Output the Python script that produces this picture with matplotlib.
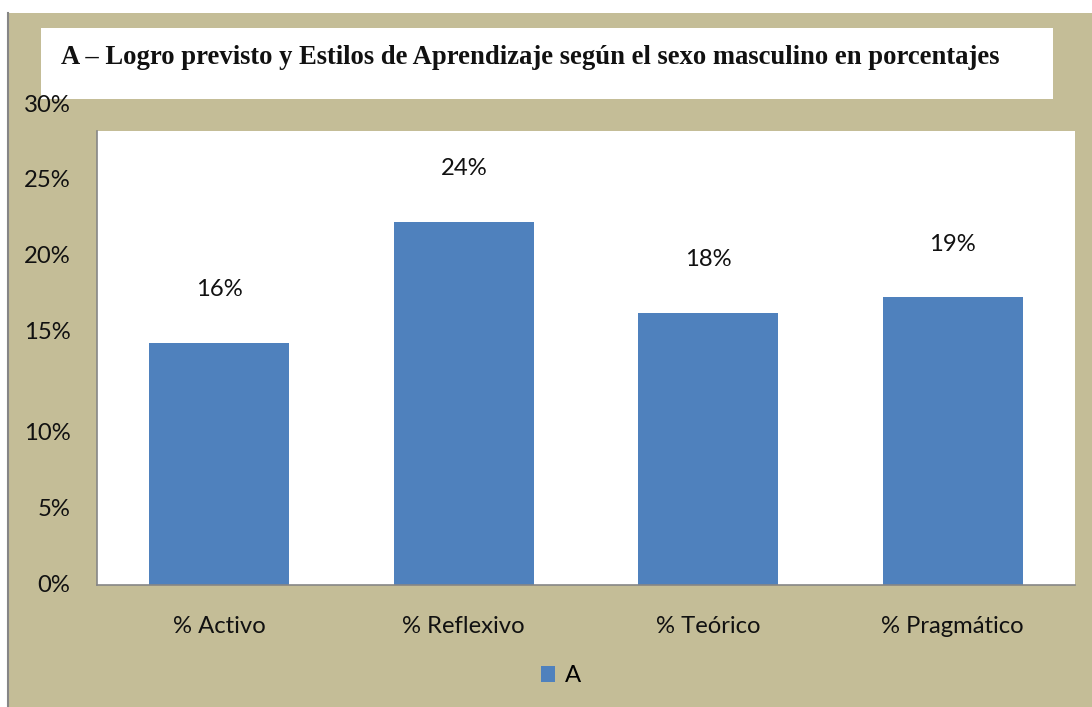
import matplotlib
matplotlib.use("Agg")
import matplotlib.pyplot as plt
from matplotlib.patches import Rectangle

categories = ["% Activo", "% Reflexivo", "% Teórico", "% Pragmático"]
values = [16, 24, 18, 19]
value_labels = ["16%", "24%", "18%", "19%"]
# y tick labels sit at uneven heights in the original picture
ytick_labels = ["0%", "5%", "10%", "15%", "20%", "25%", "30%"]
ytick_pos = [0, 5, 10, 16.7, 21.7, 26.7, 31.7]
series_name = "A"
title = "A – Logro previsto y Estilos de Aprendizaje según el sexo masculino en porcentajes"

W, H = 1092, 707
BEIGE = "#C4BD97"
BLUE = "#4F81BD"
GRAY = "#868686"
FONT = ["Lato", "DejaVu Sans"]
FS = 17.2


def fx(px):
    return px / W


def fy(py):
    return 1 - py / H


fig = plt.figure(figsize=(W / 100, H / 100), dpi=100)
fig.patch.set_facecolor("white")

# beige chart frame + gray left edge
fig.patches.append(Rectangle((fx(8), 0), 1 - fx(8), fy(13), transform=fig.transFigure,
                             facecolor=BEIGE, edgecolor="none", zorder=0))
fig.add_artist(plt.Line2D([fx(8), fx(8)], [0, fy(13)], transform=fig.transFigure,
                          color=GRAY, lw=1.5))
# white title box
fig.patches.append(Rectangle((fx(41), fy(99)), fx(1053 - 41), (99 - 28) / H,
                             transform=fig.transFigure, facecolor="white",
                             edgecolor="none", zorder=1))
fig.text(fx(61), fy(58), title, ha="left", va="center", fontsize=19.2,
         fontweight="bold", family="Liberation Serif", color="#111111")

ax = fig.add_axes([fx(97), fy(585), fx(1075 - 97), (585 - 131) / H])
ax.set_zorder(5)
ax.set_facecolor("white")
x = range(len(categories))
bars = ax.bar(x, values, width=0.573, color=BLUE, label=series_name, zorder=2)
ax.set_xlim(-0.5, len(categories) - 0.5)
ax.set_ylim(0, 30)

for xi, v, lab in zip(x, values, value_labels):
    ax.text(xi, v + 3.5, lab, ha="center", va="center", fontsize=FS,
            family=FONT, color="#111111")

ax.set_xticks(list(x))
ax.set_xticklabels(categories, fontsize=FS, family=FONT, color="#111111")
ax.tick_params(axis="x", length=0, pad=22)
ax.set_yticks([])
for p, lab in zip(ytick_pos, ytick_labels):
    ax.text(-0.027, p, lab, transform=ax.get_yaxis_transform(), ha="right",
            va="center", fontsize=FS, family=FONT, color="#111111", clip_on=False)

for s in ["top", "right"]:
    ax.spines[s].set_visible(False)
for s in ["left", "bottom"]:
    ax.spines[s].set_color(GRAY)
    ax.spines[s].set_linewidth(1.2)

leg = fig.legend(handles=[bars], labels=[series_name], loc="center",
                 bbox_to_anchor=(fx(561), fy(676)), frameon=False,
                 prop={"family": FONT, "size": FS}, handlelength=0.6,
                 handleheight=0.6, handletextpad=0.4)
leg.set_zorder(6)

fig.savefig("out.png", dpi=100, facecolor=fig.get_facecolor())
